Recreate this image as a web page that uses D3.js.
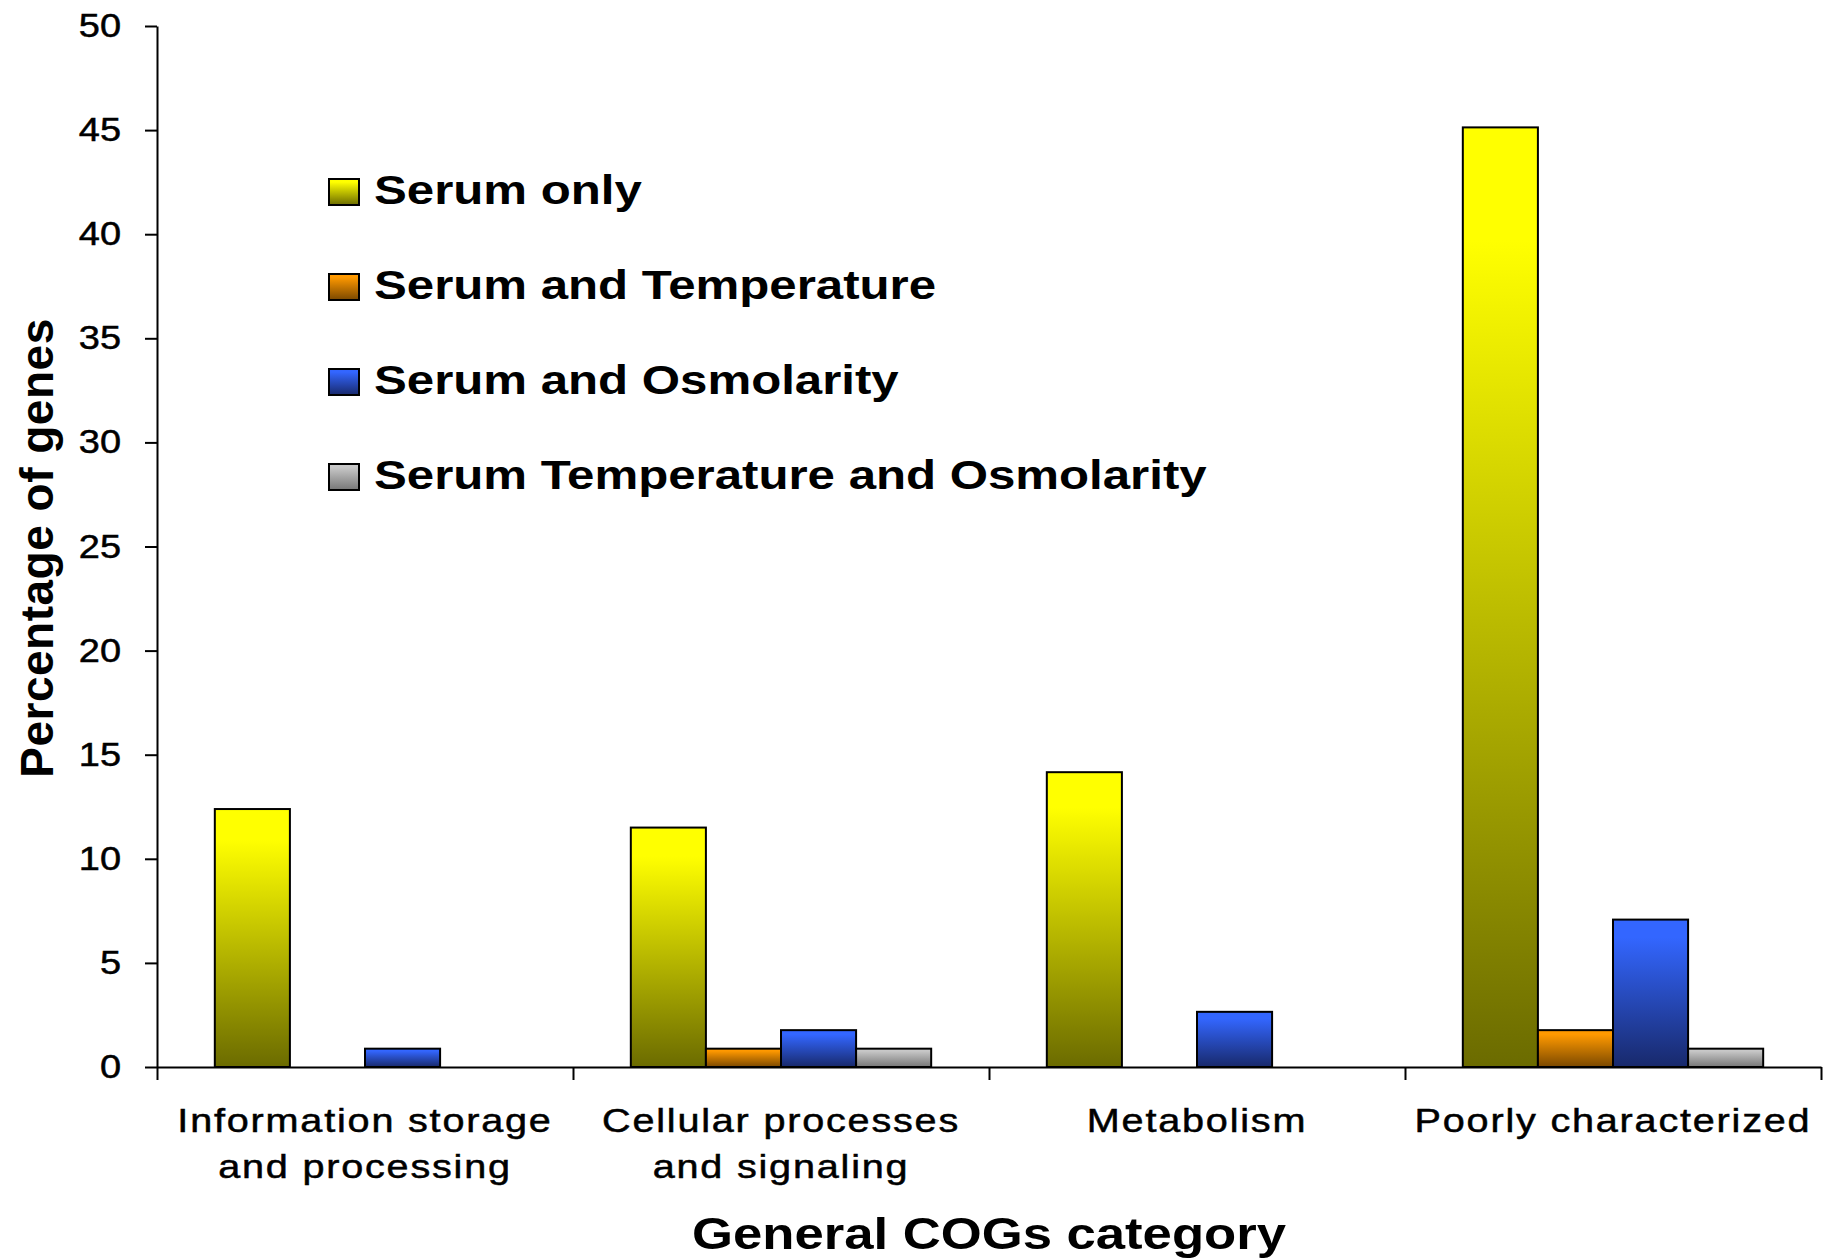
<!DOCTYPE html>
<html>
<head>
<meta charset="utf-8">
<script src="https://cdn.jsdelivr.net/npm/d3@7"></script>
<style>
  body { margin: 0; background: #fff; }
  text { font-family: "Liberation Sans", Arial, sans-serif; fill: #000; }
</style>
</head>
<body>
<div id="chart"></div>
<script>
// Data: percentage of genes per COG category (n / 113 genes)
const categories = [
    ["Information storage", "and processing"],
    ["Cellular processes", "and signaling"],
    ["Metabolism"],
    ["Poorly characterized"]
];
const seriesNames = ["Serum only", "Serum and Temperature", "Serum and Osmolarity", "Serum Temperature and Osmolarity"];
const serumOnly = [12.39, 11.50, 14.16, 45.13];
const serumTemp = [0, 0.88, 0, 1.77];
const serumOsmo = [0.88, 1.77, 2.65, 7.08];
const serumTempOsmo = [0, 0.88, 0, 0.88];
const yTicks = [0, 5, 10, 15, 20, 25, 30, 35, 40, 45, 50];

const seriesValues = [serumOnly, serumTemp, serumOsmo, serumTempOsmo];
// gradient top / bottom colours for each series
const gradTop = ["#ffff00", "#ff9900", "#3366ff", "#c8c8c8"];
const gradBottom = ["#6b6b00", "#7a4800", "#18296b", "#777777"];

const W = 1827, H = 1258;
const plotLeft = 157, plotRight = 1821, plotTop = 26, plotBottom = 1067;

const svg = d3.select("#chart").append("svg")
    .attr("width", W)
    .attr("height", H);

// Gradients
const defs = svg.append("defs");
seriesNames.forEach((s, i) => {
    const g = defs.append("linearGradient")
        .attr("id", "grad" + i)
        .attr("x1", 0).attr("y1", 0).attr("x2", 0).attr("y2", 1);
    g.append("stop").attr("offset", "0%").attr("stop-color", gradTop[i]);
    g.append("stop").attr("offset", "12%").attr("stop-color", gradTop[i]);
    g.append("stop").attr("offset", "100%").attr("stop-color", gradBottom[i]);
});

// Scales
const x0 = d3.scaleBand()
    .domain(d3.range(categories.length))
    .range([plotLeft, plotRight])
    .padding(0);
const x1 = d3.scaleBand()
    .domain(d3.range(seriesNames.length))
    .range([0, x0.bandwidth()])
    .paddingInner(0)
    .paddingOuter(0.77);
const y = d3.scaleLinear()
    .domain([0, 50])
    .range([plotBottom, plotTop]);

// Bars
const groups = svg.append("g").selectAll("g")
    .data(categories)
    .enter()
    .append("g")
    .attr("transform", (d, i) => "translate(" + x0(i) + ",0)");

groups.selectAll("rect")
    .data((d, i) => seriesValues.map((vals, s) => ({ s: s, v: vals[i] })).filter(d => d.v > 0))
    .enter()
    .append("rect")
    .attr("x", d => x1(d.s))
    .attr("y", d => y(d.v))
    .attr("width", x1.bandwidth())
    .attr("height", d => y(0) - y(d.v))
    .attr("fill", d => "url(#grad" + d.s + ")")
    .attr("stroke", "#000")
    .attr("stroke-width", 2);

// Y axis
const yAxis = svg.append("g")
    .attr("transform", "translate(" + plotLeft + ",0)")
    .call(d3.axisLeft(y).tickValues(yTicks).tickSize(12).tickSizeOuter(0));
yAxis.selectAll("path, line").attr("stroke", "#000").attr("stroke-width", 2);
yAxis.selectAll("text")
    .attr("x", 0)
    .attr("transform", "translate(-36,0) scale(1.15,1)")
    .style("font-size", "33px")
    .style("stroke", "#000")
    .style("stroke-width", "0.5px")
    .style("font-family", "'Liberation Sans', Arial, sans-serif");

// X axis: ticks at the category boundaries
const xb = d3.scaleLinear().domain([0, categories.length]).range([plotLeft, plotRight]);
const xAxis = svg.append("g")
    .attr("transform", "translate(0," + plotBottom + ")")
    .call(d3.axisBottom(xb).ticks(categories.length).tickSize(13).tickSizeOuter(0).tickFormat(""));
xAxis.selectAll("path, line").attr("stroke", "#000").attr("stroke-width", 2);

// Category labels
categories.forEach((lines, i) => {
    const t = svg.append("text")
        .attr("text-anchor", "middle")
        .attr("transform", "translate(" + (x0(i) + x0.bandwidth() / 2) + ",1132) scale(1.2,1)")
        .style("font-size", "33px")
        .style("stroke", "#000")
        .style("stroke-width", "0.5px")
        .style("letter-spacing", "1.5px");
    lines.forEach((line, j) => {
        t.append("tspan")
            .attr("x", 0)
            .attr("y", j * 46)
            .text(line);
    });
});

// Axis titles
svg.append("text")
    .attr("text-anchor", "middle")
    .attr("transform", "translate(" + ((plotLeft + plotRight) / 2) + ",1249) scale(1.17,1)")
    .style("font-size", "45px")
    .style("font-weight", "bold")
    .text("General COGs category");

svg.append("text")
    .attr("text-anchor", "middle")
    .attr("transform", "translate(53,548) rotate(-90)")
    .style("font-size", "46px")
    .style("font-weight", "bold")
    .style("letter-spacing", "0.5px")
    .text("Percentage of genes");

// Legend
const legend = svg.append("g").selectAll("g")
    .data(seriesNames)
    .enter()
    .append("g")
    .attr("transform", (d, i) => "translate(329," + (178 + i * 95) + ")");
legend.append("rect")
    .attr("width", 30)
    .attr("height", 26)
    .attr("y", 1)
    .attr("fill", (d, i) => "url(#grad" + i + ")")
    .attr("stroke", "#000")
    .attr("stroke-width", 2);
legend.append("text")
    .attr("transform", "translate(45,26) scale(1.2,1)")
    .style("font-size", "41px")
    .style("font-weight", "bold")
    .text(d => d);
</script>
</body>
</html>
